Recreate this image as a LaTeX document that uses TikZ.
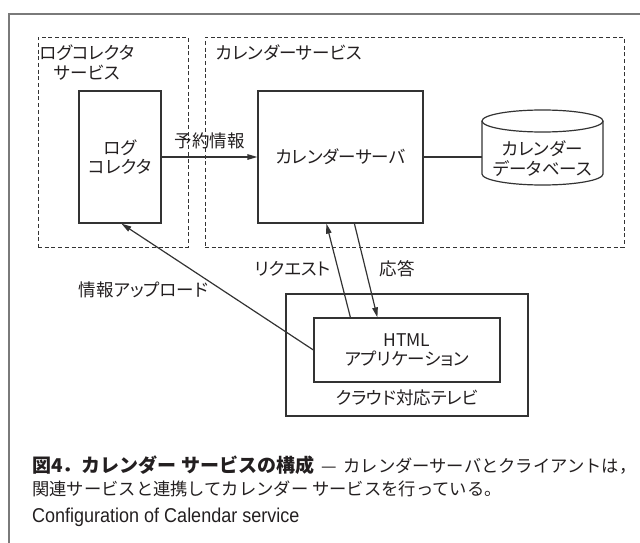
\documentclass[tikz,border=0pt]{standalone}
\usepackage{fontspec}
\usetikzlibrary{arrows.meta,calc}
\newfontfamily\jp{Noto Sans CJK JP}[RawFeature={+palt}]
\newfontfamily\jpfull{Noto Sans CJK JP}
\newfontfamily\enf{Liberation Sans}[FakeStretch=0.9]
\definecolor{linec}{HTML}{333333}
\definecolor{txtc}{HTML}{231F20}
\definecolor{framec}{HTML}{7A7A7A}
\begin{document}
\begin{tikzpicture}[x=1pt,y=-1pt,
  ln/.style={draw=linec, line width=1.2pt},
  grp/.style={draw=linec, line width=0.9pt, dash pattern=on 4pt off 2.7pt},
  lbl/.style={inner sep=0pt, align=center, text=txtc, font=\jp\fontsize{17.5}{19.5}\selectfont},
  box/.style={ln, lbl},
  arr/.style={ln, -{Triangle[length=10pt,width=5.5pt]}},
  captxt/.style={inner sep=0pt, anchor=west, text=txtc, font=\jpfull\fontsize{17.3}{22}\selectfont}
]
\useasboundingbox (0,0) rectangle (640,543);
\draw[draw=framec, line width=1.5pt] (9,543) -- (9,14) -- (640,14);

% groups
\node[grp, minimum width=150pt, minimum height=210pt, inner sep=0pt] (lgrp) at (113,142) {};
\node[grp, minimum width=419pt, minimum height=210pt, inner sep=0pt] (rgrp) at (414.5,142) {};
\node[lbl] (lgrpl) at (87,62.5) {ログコレクタ\\サービス};
\node[lbl, anchor=west] (rgrpl) at (216,53) {カレンダーサービス};

% main boxes
\node[box, minimum width=82pt, minimum height=132pt] (logc) at (120,157) {ログ\\コレクタ};
\node[box, minimum width=165pt, minimum height=132pt] (server) at (340.5,157) {カレンダーサーバ};

% database cylinder
\node[lbl] (db) at (542.5,158.5) {カレンダー\\データベース};
\coordinate (dbw) at (482,157);
\draw[ln] (482,121) -- (482,174) arc[start angle=180, end angle=360, x radius=60.5pt, y radius=11pt] -- (603,121);
\draw[ln] (542.5,121) ellipse[x radius=60.5pt, y radius=11pt];

% TV
\node[box, minimum width=242pt, minimum height=122pt] (tv) at (407,355) {};
\node[box, minimum width=186pt, minimum height=64pt] (app) at (407,350) {HTML\\アプリケーション};
\node[lbl] (tvl) at (407,398) {クラウド対応テレビ};

% connectors
\draw[arr] (logc.east) -- node[lbl, above=7pt] (rsv) {予約情報} (server.west);
\draw[ln] (server.east) -- (dbw);
\draw[arr] ($(app.north west)+(37,0)$) -- ($(server.south west)+(69,0)$);
\draw[arr] ($(server.south west)+(97,0)$) -- ($(app.north west)+(64,0)$);
\draw[arr] (app.west) -- ($(logc.south west)+(43,0)$);

\node[lbl] (reql) at (293,269) {リクエスト};
\node[lbl] (resl) at (397,269) {応答};
\node[lbl] (upl) at (143.5,290) {情報アップロード};

% caption
\node[captxt] (c1) at (32,465) {{\bfseries\fontsize{19}{22}\selectfont 図4．カレンダー サービスの構成}\hspace{0.4em}—\hspace{0.4em}カレンダーサーバとクライアントは，};
\node[captxt] (c2) at (32,489) {関連サービスと連携してカレンダー サービスを行っている。};
\node[captxt, font=\enf\fontsize{20}{22}\selectfont] (c3) at (32,517) {Configuration of Calendar service};
\end{tikzpicture}
\end{document}
